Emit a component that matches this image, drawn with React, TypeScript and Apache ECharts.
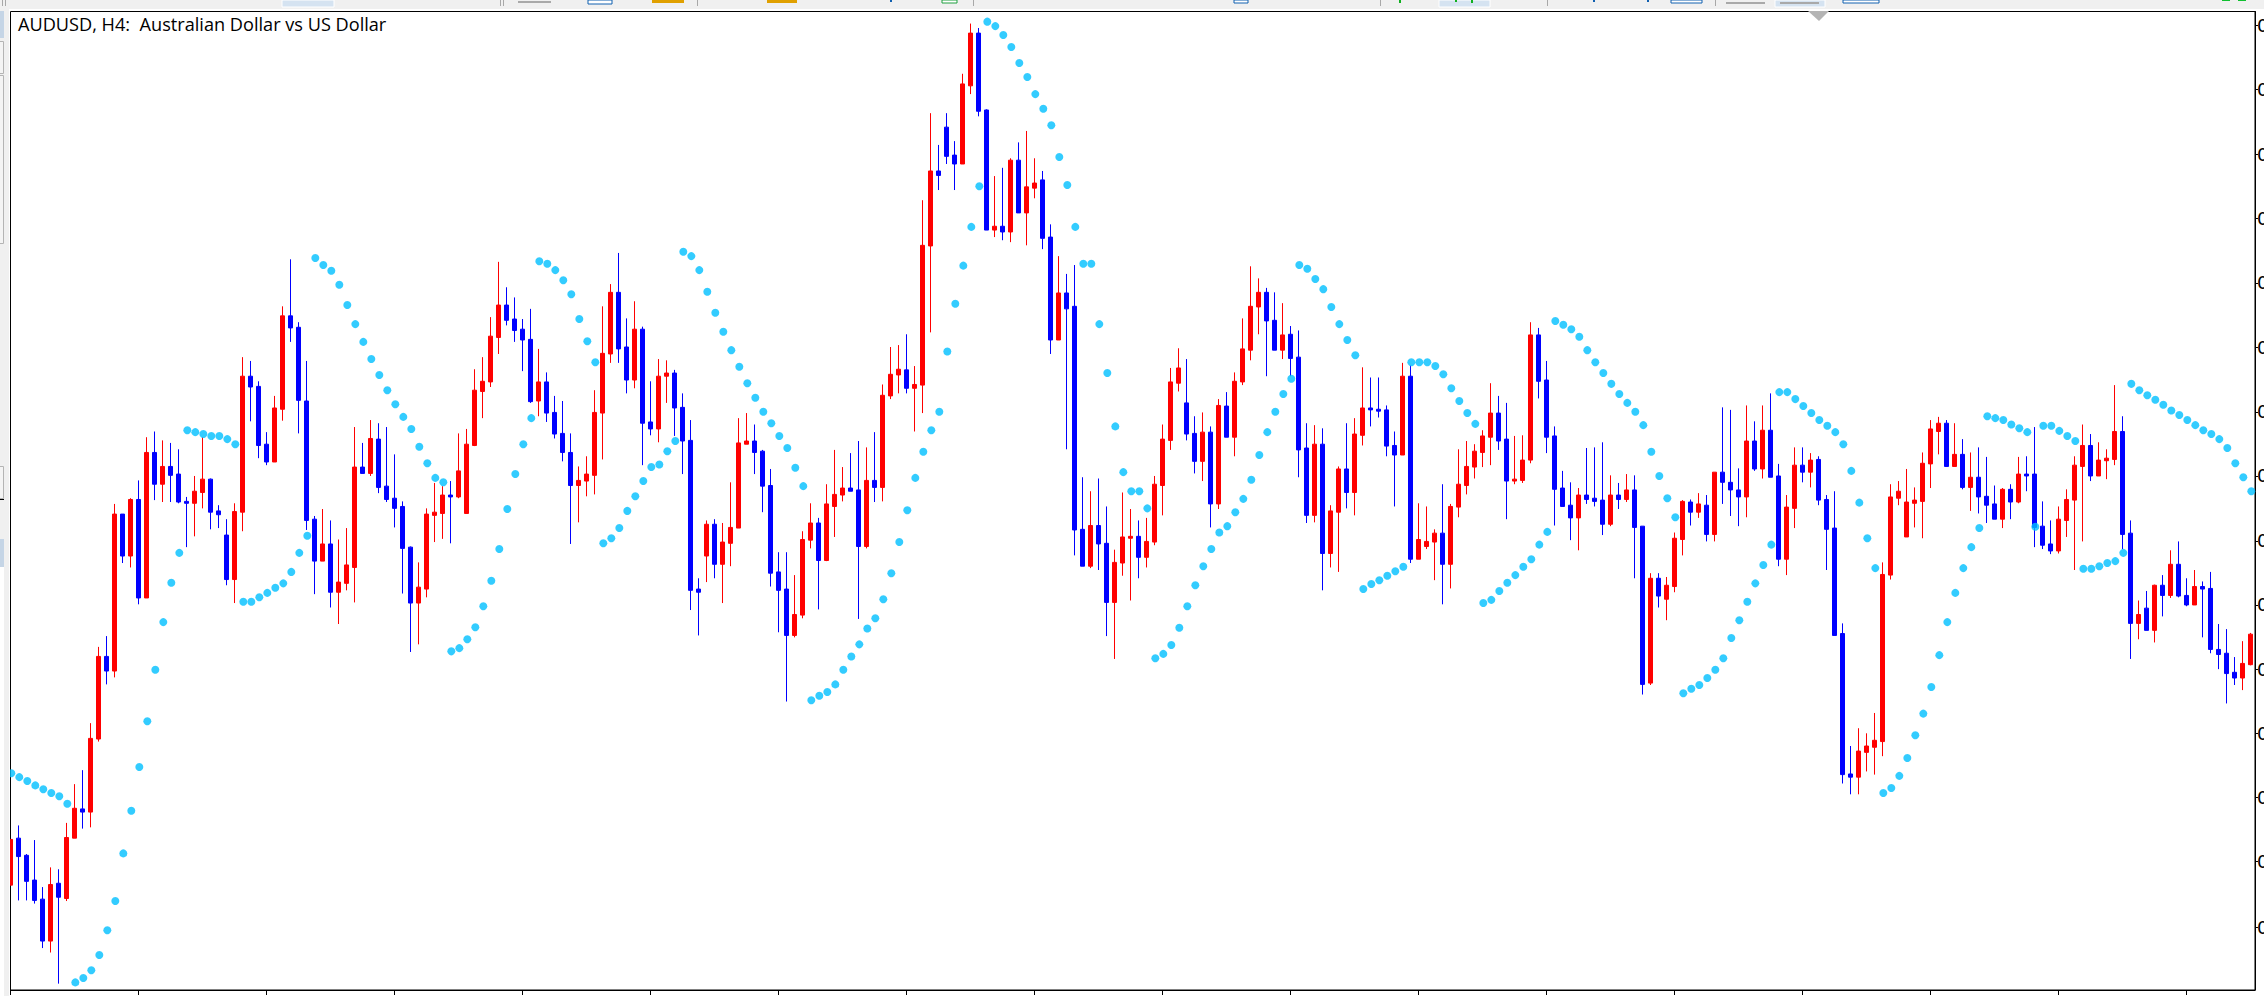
import React, { useEffect, useRef } from "react";
import * as echarts from "echarts";

// Prices are stored in points above the floor of the visible price window.
const titleText = "AUDUSD, H4:  Australian Dollar vs US Dollar";
const priceFloor = 0.68;
const pointSize = 0.00002;

const opens = [165,239,212,173,143,77,168,144,239,285,280,395,525,502,749,683,772,617,846,796,824,812,769,766,783,804,754,716,646,752,966,950,859,831,914,1061,1043,927,741,675,702,626,640,665,823,813,867,793,774,761,697,609,631,747,750,779,776,750,857,942,957,1027,1078,1056,1040,1024,927,957,909,876,846,794,801,810,908,1001,1098,1012,960,1040,894,883,966,971,917,865,631,683,733,670,703,727,859,864,848,794,658,631,558,590,708,735,676,761,779,790,787,698,802,791,935,968,976,947,952,1171,1289,1358,1314,1300,1423,1506,1385,1196,1202,1193,1306,1223,1262,1275,1185,1023,1097,1076,725,667,731,703,610,672,711,714,681,705,794,865,955,924,876,832,878,765,919,870,957,1007,1075,1098,1054,1007,1032,996,853,747,859,687,752,820,783,873,916,914,913,857,842,966,678,698,705,719,670,760,794,823,846,870,908,867,801,802,834,1031,960,872,790,763,743,779,774,771,733,779,772,787,730,483,648,615,635,709,768,752,763,717,815,799,787,776,864,820,881,809,678,758,826,815,835,772,727,561,340,335,374,382,391,653,774,713,766,769,828,879,892,824,843,791,807,777,765,741,788,768,812,812,730,702,691,739,771,824,857,809,833,835,879,719,577,601,566,637,621,670,621,606,635,632,536,530,500,491,512];
const closes = [237,210,171,141,77,166,146,240,286,280,396,525,502,749,683,772,617,846,796,824,810,768,766,785,804,752,748,646,753,966,949,857,831,916,1061,1042,928,739,675,702,626,642,669,823,813,868,791,772,758,695,609,634,749,752,779,776,817,859,944,958,1029,1078,1054,1038,1023,926,957,908,875,846,794,802,812,909,1002,1098,1009,960,1040,892,883,966,971,916,864,629,626,733,670,705,728,861,864,846,793,656,629,558,591,709,735,676,765,780,790,785,698,802,791,936,969,977,947,953,1172,1289,1282,1312,1300,1426,1506,1383,1196,1202,1193,1306,1223,1264,1270,1183,1023,1097,1072,724,667,731,702,610,673,713,714,681,706,796,867,957,979,875,832,878,765,920,870,958,1009,1076,1098,1053,1007,1031,994,850,747,859,687,754,820,783,875,916,913,911,856,842,966,678,709,706,719,670,761,796,824,848,872,908,864,801,804,834,1031,958,870,788,761,743,779,772,769,733,779,772,787,728,481,648,620,637,711,769,752,765,717,815,799,787,776,864,820,881,807,678,760,826,815,834,771,725,558,339,335,376,384,393,654,776,785,768,771,829,883,892,824,843,791,807,776,763,741,788,768,812,809,728,700,691,741,772,826,857,809,834,837,879,717,577,591,566,637,621,670,620,606,635,631,536,528,498,491,514,560];
const lows = [165,141,141,136,66,59,10,140,239,254,256,391,481,492,672,665,607,617,771,768,768,766,697,714,758,725,727,637,609,722,895,837,826,831,896,1020,876,724,623,675,602,576,629,610,813,809,782,768,728,624,532,544,618,705,710,703,774,750,856,900,949,1001,1046,1020,974,924,903,894,868,832,702,736,777,780,835,987,987,939,947,826,873,862,924,872,812,598,558,642,648,609,667,727,859,812,752,635,563,454,555,585,695,599,675,713,769,785,584,695,768,769,930,939,939,879,908,1035,1259,1300,1259,1300,1410,1375,1196,1185,1180,1177,1223,1172,1246,1166,1001,1023,851,684,667,664,661,557,521,652,613,648,665,700,747,850,942,865,813,801,728,757,870,840,952,991,1032,966,1007,993,966,807,735,736,629,665,658,758,747,857,887,901,840,761,842,672,678,694,645,607,632,744,780,805,823,826,850,741,796,798,829,931,845,731,761,708,692,765,761,716,730,757,768,648,465,480,602,582,626,684,731,743,706,706,765,746,730,744,817,805,807,667,653,727,799,791,763,661,558,325,308,308,344,339,368,646,763,713,728,711,790,843,824,824,788,754,750,735,741,727,741,766,785,697,694,686,687,713,661,706,801,809,804,826,694,521,552,566,547,588,617,618,604,606,555,530,505,451,480,472,511];
const highs = [237,259,214,236,162,193,190,263,324,346,420,540,557,765,749,774,802,870,879,865,861,851,776,809,870,805,763,741,766,996,990,958,878,935,1076,1150,1051,990,746,757,739,709,727,886,861,897,892,886,843,769,698,673,758,798,793,801,876,883,977,996,1059,1146,1106,1090,1056,1072,1009,972,935,927,876,824,840,944,1076,1111,1160,1057,1084,1044,958,993,991,976,939,897,648,739,741,735,799,900,908,890,850,820,689,689,653,722,766,743,796,850,823,845,864,854,878,953,1012,1015,1032,982,1243,1380,1330,1380,1336,1442,1521,1514,1386,1281,1294,1309,1334,1352,1309,1289,1205,1155,1127,1141,807,785,805,761,693,783,757,739,743,809,890,979,1010,993,903,909,887,930,941,972,1057,1139,1120,1105,1098,1081,1045,1038,892,889,884,763,824,892,900,980,964,964,920,879,987,983,766,761,725,796,765,851,864,859,881,955,935,924,872,873,1051,1042,990,887,817,799,790,853,854,862,810,798,812,810,730,656,656,650,720,771,772,782,779,815,917,913,821,920,895,920,939,828,779,854,854,845,840,779,785,577,384,412,404,436,673,796,801,820,791,846,897,902,897,892,867,846,854,839,794,790,796,839,840,886,769,739,761,788,840,890,875,862,851,952,903,739,613,628,638,653,692,706,648,661,643,658,576,568,524,549,562];

const sarLevels = [341,335,329,322,316,310,305,293,12,19,31,55,94,140,215,282,351,423,504,579,641,688,881,878,875,872,872,867,859,611,611,618,625,633,640,658,688,715,1152,1141,1132,1110,1078,1048,1020,993,968,944,922,902,883,855,829,806,799,533,538,552,571,604,644,694,757,812,859,900,1147,1143,1133,1117,1095,1056,1021,988,703,711,727,754,777,801,823,827,848,864,1162,1155,1133,1099,1066,1036,1007,981,955,932,910,892,872,853,822,793,456,463,469,481,504,525,544,569,585,615,656,705,755,806,847,881,910,1005,1080,1140,1201,1265,1524,1517,1503,1484,1459,1437,1410,1387,1361,1311,1267,1201,1143,1143,1048,971,887,815,785,785,758,522,529,543,570,604,637,667,694,720,730,752,773,803,842,878,910,938,962,1141,1135,1119,1103,1075,1048,1023,999,631,639,645,652,659,666,988,988,988,982,969,947,927,908,891,609,614,628,641,653,666,678,701,721,1053,1047,1040,1028,1007,988,971,954,938,924,910,889,847,809,774,744,467,474,480,491,504,522,554,582,611,640,669,701,941,941,930,919,908,897,888,878,859,817,767,711,664,310,318,337,365,401,435,477,527,579,625,664,697,727,903,900,897,890,884,878,729,888,888,880,872,864,663,663,667,672,675,688,954,944,936,929,921,912,905,897,889,881,875,867,853,829,807,785];

const priceTicks = [99,202,303,404,505,606,707,809,910,1011,1113,1214,1315,1417,1518];
const timeTicks = [0,16,32,48,64,80,96,112,128,144,160,176,192,208,224,240,256,272];

const candleRows = opens.map((o, i) => [i, o, closes[i], lows[i], highs[i]]);
const sarRows = sarLevels.map((v, i) => [i, v]);

const box = (x: number, y: number, width: number, height: number, fill: string, stroke?: string) => ({
  type: "rect",
  z: 10,
  silent: true,
  shape: { x, y, width, height },
  style: stroke ? { fill, stroke, lineWidth: 1 } : { fill },
});

const chrome = [
  box(0, 0, 2264, 9, "#f0f0f0"),
  box(0, 9, 10, 987, "#f0f0f0"),
  box(0, 567, 4, 429, "#ffffff"),
  box(9, 9, 1, 987, "#ffffff"),
  box(10, 9, 2254, 2, "#ffffff"),
  box(0, 11, 4, 27, "#c5d5e6"),
  box(-2, 41.5, 5.5, 32, "#f4f4f4", "#b4b4b4"),
  box(-2, 75.5, 5.5, 168, "#f4f4f4", "#b4b4b4"),
  box(-2, 466.5, 5.5, 32, "#f4f4f4", "#b4b4b4"),
  box(0, 499, 4, 1, "#000000"),
  box(0, 539, 4, 28, "#c5d5e6"),
  box(2, 0, 1, 6, "#a8a8a8"),
  box(5, 0, 1, 6, "#a8a8a8"),
  box(282, 0, 52, 7, "#d5e3f1", "#ffffff"),
  box(500, 0, 1, 6, "#a8a8a8"),
  box(503, 0, 1, 6, "#a8a8a8"),
  box(518, 1, 33, 2, "#a9a9a9"),
  box(588, 0, 24, 4, "#ffffff", "#1060b0"),
  box(652, 0, 32, 3, "#e0a000"),
  box(697, 0, 1, 6, "#a8a8a8"),
  box(767, 0, 30, 3, "#e0a000"),
  box(890, 0, 2, 2, "#1060b0"),
  box(942, 0, 15, 3, "#ffffff", "#20a040"),
  box(973, 0, 1, 6, "#a8a8a8"),
  box(1234, 0, 14, 3, "#ffffff", "#1060b0"),
  box(1380, 0, 1, 6, "#a8a8a8"),
  box(1399, 0, 2, 3, "#10b020"),
  box(1439, 0, 51, 7, "#d5e3f1", "#ffffff"),
  box(1455, 0, 2, 2, "#10b020"),
  box(1471, 0, 2, 3, "#10b020"),
  box(1547, 0, 1, 6, "#a8a8a8"),
  box(1593, 0, 2, 2, "#1060b0"),
  box(1647, 0, 2, 2, "#1060b0"),
  box(1671, 0, 31, 3, "#ffffff", "#1060b0"),
  box(1715, 0, 1, 6, "#a8a8a8"),
  box(1726, 2, 39, 2, "#a9a9a9"),
  box(1775, 0, 50, 7, "#d5e3f1", "#ffffff"),
  box(1780, 2, 39, 2, "#a9a9a9"),
  box(1843, 0, 36, 3, "#ffffff", "#1060b0"),
  box(2222, 0, 8, 1, "#10c030"),
  box(2238, 0, 8, 1, "#10c030"),
  { type: "polygon", z: 10, silent: true, shape: { points: [[1808, 11], [1829, 11], [1819, 21]] }, style: { fill: "#b4b4b4" } },
];

export default function App() {
  const ref = useRef<HTMLDivElement>(null);
  useEffect(() => {
    document.body.style.margin = "0";
    const chart = echarts.init(ref.current!, null, { renderer: "svg" });
    chart.setOption({
      animation: false,
      backgroundColor: "#ffffff",
      title: {
        text: titleText,
        left: 18,
        top: 15,
        padding: 0,
        textStyle: { fontFamily: "'Open Sans'", fontSize: 18.15, fontWeight: "normal", color: "#000" },
      },
      graphic: { elements: chrome },
      grid: {
        left: 10.5,
        top: 11.5,
        width: 2244.5,
        height: 978.5,
        outerBoundsMode: "none",
        containLabel: false,
        show: true,
        backgroundColor: "#fff",
        borderColor: "#000",
        borderWidth: 1,
      },
      xAxis: {
        type: "value",
        min: 0,
        max: 280.56,
        splitLine: { show: false },
        axisLine: { show: true, onZero: false, lineStyle: { color: "#000", width: 1 } },
        axisTick: { show: true, length: 5, customValues: timeTicks, lineStyle: { color: "#000" } },
        axisLabel: { show: false },
      },
      yAxis: {
        type: "value",
        position: "right",
        min: 0,
        max: 1540,
        splitLine: { show: false },
        axisLine: { show: true, onZero: false, lineStyle: { color: "#000", width: 1 } },
        axisTick: { show: true, length: 3, customValues: priceTicks, lineStyle: { color: "#000" } },
        axisLabel: {
          show: true,
          customValues: priceTicks,
          margin: 2,
          fontFamily: "'DejaVu Sans'",
          fontSize: 18,
          color: "#000",
          formatter: (v: number) => (priceFloor + v * pointSize).toFixed(5),
        },
      },
      series: [
        {
          type: "candlestick",
          data: candleRows,
          encode: { x: 0, y: [1, 2, 3, 4] },
          barWidth: 4,
          clip: true,
          itemStyle: { color: "#ff0000", color0: "#0000ff", borderColor: "#ff0000", borderColor0: "#0000ff", borderWidth: 1 },
          z: 2,
        },
        {
          type: "scatter",
          data: sarRows,
          symbol: "circle",
          symbolSize: 8,
          symbolOffset: [0.8, 0],
          clip: true,
          itemStyle: { color: "#00bfff" },
          z: 3,
        },
      ],
    });
    return () => chart.dispose();
  }, []);
  return <div ref={ref} style={{ position: "fixed", left: 0, top: 0, width: 2264, height: 996 }} />;
}
